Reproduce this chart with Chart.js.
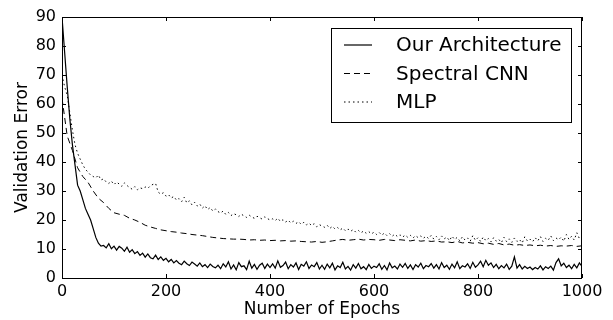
<!DOCTYPE html>
<html>
<head>
<meta charset="utf-8">
<script src="https://cdn.jsdelivr.net/npm/chart.js@4/dist/chart.umd.min.js"></script>
<style>
  body { margin: 0; background: #fff; }
</style>
</head>
<body>
<canvas id="errChart" width="613" height="320"></canvas>
<script>
// validation error
// solid line + MLP sampled every 5 epochs, spectral CNN every 10
const ourArchitecture = [
  90, 78, 66, 55, 46, 39, 32, 30, 27, 24, 22, 20, 17, 14, 12, 11,
  11.2, 10.4, 11.8, 10.1, 11.0, 9.6, 10.9, 10.3, 9.2, 10.6, 8.9, 9.8, 8.4, 9.1, 7.8, 8.6, 7.2, 8.3, 7.0, 6.6, 7.9, 6.4, 7.3, 6.1, 6.8,
  5.6, 6.4, 5.2, 6.0, 5.1, 4.6, 5.8, 4.9, 4.3, 5.5, 4.8, 4.1, 5.2, 3.9, 4.6, 3.6, 4.8, 4.0, 3.5, 4.4,
  3.2, 4.9, 3.8, 5.6, 3.1, 4.5, 2.8, 5.3, 3.9, 4.2, 2.9, 5.8, 3.4, 4.7, 3.0, 4.4, 5.1, 3.3, 4.8, 3.6,
  4.9, 3.4, 5.9, 3.7, 4.3, 5.5, 3.2, 4.6, 3.8, 5.2, 2.9, 4.7, 4.1, 5.6, 3.3, 4.5, 3.9, 5.3, 3.1, 4.4,
  3.0, 4.8, 3.5, 5.1, 2.8, 4.2, 3.6, 5.4, 3.1, 4.0, 2.7, 4.6, 3.4, 5.0, 3.2, 3.9, 2.9, 4.7, 3.3, 4.1,
  3.6, 4.9, 3.0, 4.3, 2.8, 5.2, 3.5, 4.1, 3.1, 4.8, 3.7, 5.0, 3.3, 4.5, 2.9, 4.6, 3.8, 5.1, 3.2, 4.3,
  3.9, 5.0, 3.4, 4.6, 3.1, 5.3, 3.6, 4.4, 3.0, 4.8, 3.5, 5.6, 3.2, 4.2, 3.8, 4.9, 3.3, 5.4, 3.7, 4.5,
  5.8, 3.9, 6.1, 4.4, 5.2, 3.6, 4.7, 3.2, 4.3, 3.5, 4.8, 3.0, 4.1, 7.3, 3.4, 4.6, 3.1, 4.0, 3.3, 3.8,
  2.9, 3.6, 3.1, 4.2, 2.8, 3.9, 3.3, 4.1, 2.7, 5.3, 6.6, 4.2, 5.1, 3.6, 4.4, 3.2, 4.7, 3.5, 5.2, 4.0
];
const spectralCNN = [
  62, 49, 44, 38, 35, 33, 30, 27.5, 26, 24, 22.5,
  22, 21.6, 20.6, 20, 19.2, 18.2, 17.6, 17.1, 16.6, 16.3,
  16, 15.8, 15.5, 15.3, 15, 14.8, 14.6, 14.3, 14, 13.8,
  13.6, 13.5, 13.4, 13.4, 13.3, 13.1, 13.2, 13, 13.1, 12.9,
  13, 12.8, 12.9, 12.7, 12.8, 12.6, 12.5, 12.4, 12.6, 12.3,
  12.5, 12.8, 13.1, 13.3, 13.0, 13.2, 13.4, 13.1, 13.3, 13.2,
  13.0, 13.3, 13.1, 12.9, 13.2, 13.0, 12.8, 13.1, 12.7, 12.9,
  12.6, 12.8, 12.4, 12.5, 12.2, 12.6, 12.1, 12.3, 12.0, 12.2,
  11.8, 12.0, 11.6, 11.9, 11.4, 11.7, 11.3, 11.5, 11.2, 11.4,
  11.1, 11.3, 11.0, 11.2, 10.9, 11.1, 11.0, 11.2, 10.9, 11.1
];
const mlp = [
  70, 66, 63, 57, 51, 46, 43, 41, 39, 37.5, 36.5, 35.5, 35, 34.5, 35.5, 33.8, 34.2, 33.1, 32.6, 33.4, 32.2,
  33.1, 32.4, 31.6, 32.8, 31.9, 31.2, 30.6, 31.5, 30.4, 31.1, 30.8, 31.4, 30.9, 31.8, 32.3, 32.6,
  29.6, 28.9, 29.4, 28.2, 28.7, 27.6, 28.1, 26.9, 27.4, 26.3, 27.8, 25.9, 26.6, 25.2, 26.1, 24.8, 25.5, 24.1, 24.9, 23.6, 24.3, 23.1, 23.8, 22.9,
  22.4, 23.1, 21.9, 22.6, 21.5, 22.2, 21.8, 21.2, 22.0, 21.4, 20.9, 21.7, 21.0, 20.6, 21.3, 20.8, 20.3, 21.1, 20.5, 20.0,
  20.4, 19.8, 20.6, 19.5, 20.1, 19.3, 19.9, 19.0, 19.6, 18.8, 19.4, 18.5, 19.2, 18.3, 18.9, 18.1, 18.7, 17.6, 18.4, 17.9,
  17.5, 18.2, 17.1, 17.8, 16.9, 17.4, 16.6, 17.2, 16.3, 16.9, 16.1, 16.7, 15.8, 16.4, 15.6, 16.2, 15.4, 16.0, 15.2, 15.8,
  15.0, 15.7, 14.8, 15.5, 14.6, 15.3, 14.4, 15.1, 14.3, 14.9, 14.1, 14.8, 14.0, 14.7, 13.8, 14.6, 13.9, 14.5, 13.7, 14.4,
  13.6, 14.7, 13.4, 14.3, 13.2, 14.5, 13.5, 14.1, 12.9, 14.4, 13.3, 14.0, 12.8, 14.2, 13.1, 13.8, 12.7, 14.6, 13.0, 13.9,
  12.6, 14.1, 12.9, 13.6, 12.4, 13.9, 12.7, 13.3, 12.2, 14.0, 12.5, 13.5, 12.3, 13.8, 12.6, 13.2, 12.1, 14.2, 12.8, 13.4,
  12.5, 13.9, 12.8, 14.3, 12.6, 13.7, 13.0, 14.5, 12.9, 13.8, 13.2, 14.1, 12.7, 15.0, 13.3, 14.4, 13.1, 15.6, 13.6, 14.2
];
const xTicks = [0, 200, 400, 600, 800, 1000];
const yTicks = [0, 10, 20, 30, 40, 50, 60, 70, 80, 90];

// epoch grid for each series
const withEpochs = (vals, step) => vals.map((v, i) => ({ x: i * step, y: v }));

const FONT = 'DejaVu Sans';

// matplotlib-style box, inward ticks and framed legend
const frame = {
  id: 'frame',
  afterDraw(chart) {
    const { ctx, chartArea: a, scales: { x, y } } = chart;
    ctx.save();
    ctx.strokeStyle = '#000';
    ctx.lineWidth = 1;
    ctx.setLineDash([]);
    ctx.strokeRect(a.left + 0.5, a.top + 0.5, a.right - a.left - 1, a.bottom - a.top);
    ctx.beginPath();
    xTicks.forEach(v => {
      const px = Math.round(x.getPixelForValue(v)) + 0.5;
      ctx.moveTo(px, a.bottom); ctx.lineTo(px, a.bottom - 4);
      ctx.moveTo(px, a.top); ctx.lineTo(px, a.top + 4);
    });
    yTicks.forEach(v => {
      const py = Math.round(y.getPixelForValue(v)) + 0.5;
      ctx.moveTo(a.left, py); ctx.lineTo(a.left + 4, py);
      ctx.moveTo(a.right, py); ctx.lineTo(a.right - 4, py);
    });
    ctx.stroke();

    // legend
    const bx = 331, by = 28, bw = 240, bh = 94;
    ctx.fillStyle = '#fff';
    ctx.fillRect(bx, by, bw, bh);
    ctx.strokeRect(bx + 0.5, by + 0.5, bw, bh);
    ctx.font = '20px ' + FONT;
    ctx.textBaseline = 'middle';
    chart.data.datasets.forEach((ds, i) => {
      const ry = 45 + i * 28.5;
      ctx.beginPath();
      ctx.lineWidth = ds.borderWidth;
      ctx.setLineDash(ds.borderDash || []);
      ctx.moveTo(344, ry); ctx.lineTo(372, ry);
      ctx.stroke();
      ctx.fillStyle = '#000';
      ctx.fillText(ds.label, 396, ry + 1);
    });
    ctx.restore();
  }
};

new Chart(document.getElementById('errChart'), {
  type: 'line',
  data: {
    datasets: [
      { label: 'Our Architecture', data: withEpochs(ourArchitecture, 5), borderColor: '#000', borderWidth: 1.2 },
      { label: 'Spectral CNN', data: withEpochs(spectralCNN, 10), borderColor: '#000', borderWidth: 1, borderDash: [6, 4] },
      { label: 'MLP', data: withEpochs(mlp, 5), borderColor: '#000', borderWidth: 1, borderDash: [1.5, 3] }
    ]
  },
  options: {
    responsive: false,
    animation: false,
    devicePixelRatio: 1,
    elements: { point: { radius: 0 }, line: { tension: 0 } },
    layout: { padding: { top: 17, right: 31, left: 0, bottom: 0 } },
    plugins: { legend: { display: false }, tooltip: { enabled: false } },
    scales: {
      x: {
        type: 'linear', min: 0, max: 1000,
        afterBuildTicks: s => { s.ticks = xTicks.map(v => ({ value: v })); },
        afterFit: s => { s.height = 42; },
        grid: { display: false, drawTicks: false },
        border: { display: false },
        ticks: { color: '#000', font: { family: FONT, size: 16 }, padding: 4, maxRotation: 0, callback: v => String(v) },
        title: { display: true, text: 'Number of Epochs', color: '#000', font: { family: FONT, size: 17 }, padding: { top: 2, bottom: 0 } }
      },
      y: {
        min: 0, max: 90,
        afterBuildTicks: s => { s.ticks = yTicks.map(v => ({ value: v })); },
        afterFit: s => { s.width = 62; },
        grid: { display: false, drawTicks: false },
        border: { display: false },
        ticks: { color: '#000', font: { family: FONT, size: 16 }, padding: 6 },
        title: { display: true, text: 'Validation Error', color: '#000', font: { family: FONT, size: 17 }, padding: { top: 12, bottom: 0 } }
      }
    }
  },
  plugins: [frame]
});
</script>
</body>
</html>
